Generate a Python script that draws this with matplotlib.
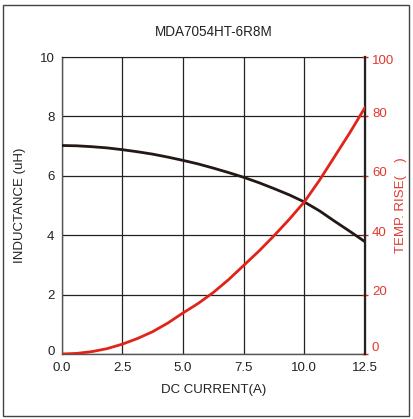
import numpy as np
import matplotlib
matplotlib.use('Agg')
import matplotlib.pyplot as plt
import matplotlib.transforms as mtransforms
from matplotlib.patches import Rectangle

plt.rcParams['font.family'] = ['Liberation Sans', 'DejaVu Sans']

# data
current = [0.0, 0.625, 1.25, 1.875, 2.5, 3.125, 3.75, 4.375, 5.0, 5.625, 6.25,
           6.875, 7.5, 8.125, 8.75, 9.375, 10.0, 10.625, 11.25, 11.875, 12.5]
inductance = [7.02, 7.01, 6.98, 6.94, 6.88, 6.81, 6.73, 6.63, 6.52, 6.40, 6.26,
              6.11, 5.95, 5.77, 5.57, 5.36, 5.12, 4.82, 4.47, 4.13, 3.78]
temp_rise = [0.0, 0.2, 0.8, 1.8, 3.3, 5.2, 7.5, 10.4, 13.8, 17.0, 20.7,
             25.0, 29.8, 34.6, 39.8, 45.3, 51.2, 58.5, 66.5, 74.5, 83.0]

x_ticks = [0.0, 2.5, 5.0, 7.5, 10.0, 12.5]
l_ticks = [0, 2, 4, 6, 8, 10]
r_ticks = [0, 20, 40, 60, 80, 100]

red = '#e2231a'
red_txt = '#e03a30'
blk = '#231815'

fig = plt.figure(figsize=(4.13, 4.19), dpi=100)
fig.patches.append(Rectangle((3 / 413, 3 / 419), 406 / 413, 411 / 419,
                             transform=fig.transFigure, fill=False,
                             edgecolor='#444444', linewidth=1.0))

ax = fig.add_axes([61.5 / 413, 65 / 419, 303.5 / 413, 297 / 419])
ax2 = ax.twinx()

ax.plot(current, inductance, color=blk, linewidth=2.0, zorder=3)
ax2.plot(current, temp_rise, color=red, linewidth=2.0, zorder=3)

ax.set_xlim(0, 12.5)
ax.set_ylim(0, 10)
ax2.set_ylim(0, 100)
ax.set_xticks(x_ticks)
ax.set_xticklabels(['%.1f' % v for v in x_ticks])
ax.set_yticks(l_ticks)
ax2.set_yticks(r_ticks)

ax.grid(True, color='#222222', linewidth=0.9)
ax.set_axisbelow(True)

ax.tick_params(axis='both', length=0, labelsize=9.5, colors='#222222', pad=5)
ax.tick_params(axis='x', pad=6)
ax2.tick_params(axis='y', direction='inout', length=4, width=1.0, color=red,
                labelcolor=red_txt, labelsize=9.5, pad=3)

for s in ['left', 'bottom']:
    ax.spines[s].set_color('#555555')
    ax.spines[s].set_linewidth(1.0)
ax.spines['top'].set_color('#222222')
ax2.spines['right'].set_color('#222222')
ax2.spines['right'].set_linewidth(1.6)
for s in ['left', 'top', 'bottom']:
    ax2.spines[s].set_visible(False)

ax.set_title('MDA7054HT-6R8M', fontsize=9.75, color='#222222', pad=15)
ax.set_xlabel('DC CURRENT(A)', fontsize=9.5, color='#222222', labelpad=7)
ax.set_ylabel('INDUCTANCE (uH)', fontsize=9.5, color='#222222')
ax2.set_ylabel('TEMP. RISE(\u2003)', fontsize=9.5, color=red_txt)
ax.yaxis.set_label_coords(-0.118, 0.5)
ax2.yaxis.set_label_coords(1.099, 0.5)

# small vertical shifts of the tick labels seen in the reference
for i, lbl in enumerate(ax2.get_yticklabels()):
    shift = 8 if i == 0 else (-2 if i == len(r_ticks) - 1 else 4)
    lbl.set_transform(lbl.get_transform() +
                      mtransforms.ScaledTranslation(0, shift / 100, fig.dpi_scale_trans))
lbl0 = ax.get_yticklabels()[0]
lbl0.set_transform(lbl0.get_transform() +
                   mtransforms.ScaledTranslation(0, 4 / 100, fig.dpi_scale_trans))

fig.savefig('out.png', dpi=100)
